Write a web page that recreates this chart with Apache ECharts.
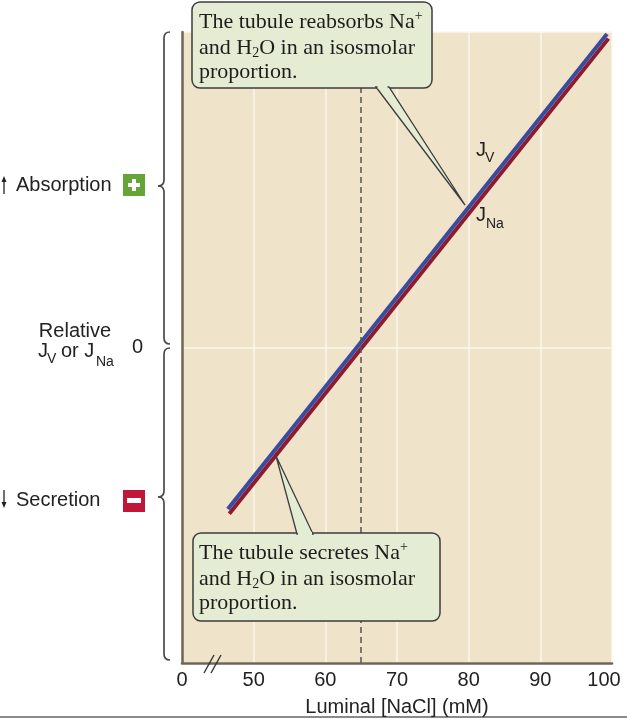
<!DOCTYPE html>
<html>
<head>
<meta charset="utf-8">
<script src="https://cdn.jsdelivr.net/npm/echarts@6/dist/echarts.min.js"></script>
<style>
html,body{margin:0;padding:0;background:#fff;}
#chart{width:627px;height:719px;}
</style>
</head>
<body>
<div id="chart"></div>
<script>
// ---- data ----
const xTickValues = [40, 50, 60, 70, 80, 90, 100];
const xTickLabels = ['0', '50', '60', '70', '80', '90', '100'];
const jvLine = [[46.4, -0.512], [99.3, 0.994]];
const jnaLine = [[46.6, -0.527], [99.5, 0.979]];
const isosmolarNaCl = 65;
const xAxisTitle = 'Luminal [NaCl] (mM)';
const topNote = ['The tubule reabsorbs {m|Na}{sup|+}', 'and {m|H}{sub|2}{m|O in an isosmolar}', 'proportion.'];
const bottomNote = ['The tubule secretes {m|Na}{sup|+}', 'and {m|H}{sub|2}{m|O in an isosmolar}', 'proportion.'];

const chart = echarts.init(document.getElementById('chart'));
const SANS = 'Liberation Sans, Arial, sans-serif';
const SERIF = 'Liberation Serif, Times New Roman, serif';
const AX = '#6e6658';
const FS = 20;
const FSS = 14;

function brace(x, y1, y2, ym, c) {
  const st = { fill: null, stroke: '#4a4a4a', lineWidth: 1.7 };
  const q = (ax, ay, cx, cy, bx, by) => ({ type: 'bezierCurve', shape: { x1: ax, y1: ay, cpx1: cx, cpy1: cy, x2: bx, y2: by }, style: st });
  const l = (ax, ay, bx, by) => ({ type: 'line', shape: { x1: ax, y1: ay, x2: bx, y2: by }, style: st });
  return [
    q(x + c, y1, x, y1, x, y1 + c),
    l(x, y1 + c, x, ym - c),
    q(x, ym - c, x, ym, x - c, ym),
    q(x - c, ym, x, ym, x, ym + c),
    l(x, ym + c, x, y2 - c),
    q(x, y2 - c, x, y2, x + c, y2)
  ];
}

const richNote = {
  m: { fontFamily: SERIF, fontSize: 22, lineHeight: 24.5, fill: '#1d1d1d' },
  sup: { fontFamily: SERIF, fontSize: 14, lineHeight: 26, fill: '#1d1d1d', verticalAlign: 'top' },
  sub: { fontFamily: SERIF, fontSize: 14, lineHeight: 15, fill: '#1d1d1d', verticalAlign: 'bottom' }
};
function noteText(lines) {
  return lines.map(l => l.replace(/^([^{]+)/, '{m|$1}')).join('\n');
}
function txt(x, y, s, size, extra) {
  return { type: 'text', x: x, y: y, style: Object.assign({ text: s, font: size + 'px ' + SANS, fill: '#222', verticalAlign: 'middle' }, extra || {}) };
}

const calloutFill = '#e4ecd3';
const calloutStroke = '#3d3d3d';

const graphics = [].concat(
  brace(164, 32, 344, 186, 6),
  brace(164, 348, 660, 497, 6),
  [
  // absorption label
  { type: 'line', shape: { x1: 4, y1: 194, x2: 4, y2: 180 }, style: { stroke: '#222', lineWidth: 1.3 } },
  { type: 'polygon', shape: { points: [[1.5, 182], [4, 176], [6.5, 182]] }, style: { fill: '#222' } },
  txt(16, 185, 'Absorption', FS),
  { type: 'rect', shape: { x: 123, y: 174, width: 22, height: 22 }, style: { fill: '#66a437' } },
  { type: 'rect', shape: { x: 128, y: 183, width: 12, height: 4 }, style: { fill: '#fff' } },
  { type: 'rect', shape: { x: 132, y: 179, width: 4, height: 12 }, style: { fill: '#fff' } },
  // secretion label
  { type: 'line', shape: { x1: 4, y1: 490, x2: 4, y2: 504 }, style: { stroke: '#222', lineWidth: 1.3 } },
  { type: 'polygon', shape: { points: [[1.5, 502], [4, 508], [6.5, 502]] }, style: { fill: '#222' } },
  txt(16, 500, 'Secretion', FS),
  { type: 'rect', shape: { x: 123, y: 490, width: 22, height: 22 }, style: { fill: '#c0163a' } },
  { type: 'rect', shape: { x: 127, y: 498, width: 14, height: 5 }, style: { fill: '#fff' } },
  // relative Jv or JNa
  txt(75, 331, 'Relative', FS, { align: 'center' }),
  txt(38, 351, 'J', FS),
  txt(47, 359, 'V', FSS),
  txt(61, 351, 'or J', FS),
  txt(96, 362, 'Na', FSS),
  // J labels near the lines
  txt(476, 150, 'J', FS),
  txt(485, 158, 'V', FSS),
  txt(476, 215, 'J', FS),
  txt(486, 224, 'Na', FSS),
  // axis break marks
  { type: 'line', shape: { x1: 204, y1: 673, x2: 214, y2: 655 }, style: { stroke: '#333', lineWidth: 1.4 }, z: 100 },
  { type: 'line', shape: { x1: 211, y1: 673, x2: 221, y2: 655 }, style: { stroke: '#333', lineWidth: 1.4 }, z: 100 },
  // bottom frame line
  { type: 'line', shape: { x1: 0, y1: 717, x2: 627, y2: 717 }, style: { stroke: '#8a8a8a', lineWidth: 2 } },
  // top callout
  { type: 'rect', shape: { x: 192, y: 2, width: 240, height: 86, r: 8 }, style: { fill: calloutFill, stroke: calloutStroke, lineWidth: 1.5 }, z: 100 },
  { type: 'polygon', shape: { points: [[376, 87], [465, 205], [389, 87]] }, style: { fill: calloutFill, stroke: calloutStroke, lineWidth: 1.3 }, z: 101 },
  { type: 'rect', shape: { x: 377.5, y: 84, width: 10, height: 4.5 }, style: { fill: calloutFill }, z: 102 },
  { type: 'text', x: 199, y: 9.5, z: 103, style: { text: noteText(topNote), rich: richNote, fill: '#1d1d1d' } },
  // bottom callout
  { type: 'rect', shape: { x: 193, y: 533, width: 247, height: 88, r: 8 }, style: { fill: calloutFill, stroke: calloutStroke, lineWidth: 1.5 }, z: 100 },
  { type: 'polygon', shape: { points: [[297, 534], [276, 456], [313, 534]] }, style: { fill: calloutFill, stroke: calloutStroke, lineWidth: 1.3 }, z: 101 },
  { type: 'rect', shape: { x: 298, y: 532, width: 14, height: 4.5 }, style: { fill: calloutFill }, z: 102 },
  { type: 'text', x: 199, y: 540.5, z: 103, style: { text: noteText(bottomNote), rich: richNote, fill: '#1d1d1d' } }
  ]
);

const option = {
  animation: false,
  backgroundColor: '#fff',
  grid: { left: 182, right: 15, top: 32, bottom: 56, show: true, backgroundColor: '#efe3c9', borderWidth: 0, outerBoundsMode: 'none', containLabel: false },
  xAxis: {
    type: 'value', min: 40, max: 100, interval: 10,
    axisLine: { show: true, onZero: false, lineStyle: { color: AX, width: 2.5 } },
    axisTick: { show: false },
    splitLine: { show: true, lineStyle: { color: '#fbf7ee', width: 1.5 } },
    axisLabel: {
      color: '#222', fontSize: FS, fontFamily: SANS, margin: 7,
      formatter: v => {
        const i = xTickValues.indexOf(v);
        if (i < 0) return '';
        return i === xTickValues.length - 1 ? '{last|' + xTickLabels[i] + '}' : xTickLabels[i];
      },
      rich: { last: { fontSize: FS, fontFamily: SANS, color: '#222', padding: [0, 16, 0, 0] } }
    },
    name: xAxisTitle, nameLocation: 'middle', nameGap: 34,
    nameTextStyle: { color: '#222', fontSize: FS, fontFamily: SANS }
  },
  yAxis: {
    type: 'value', min: -1, max: 1, interval: 1,
    axisLine: { show: true, onZero: false, lineStyle: { color: AX, width: 2.5 } },
    axisTick: { show: false },
    splitLine: { show: true, lineStyle: { color: '#fbf7ee', width: 1.5 } },
    axisLabel: { color: '#222', fontSize: FS, fontFamily: SANS, margin: 39, formatter: v => (v === 0 ? '0' : '') }
  },
  series: [
    {
      name: 'JNa', type: 'line', data: jnaLine, showSymbol: false, silent: true,
      lineStyle: { color: '#8d1b2f', width: 4, cap: 'butt' }, z: 3,
      markLine: {
        silent: true, symbol: 'none', label: { show: false },
        lineStyle: { color: '#555', type: [6, 4], width: 1.5 },
        data: [{ xAxis: isosmolarNaCl }]
      }
    },
    {
      name: 'JV', type: 'line', data: jvLine, showSymbol: false, silent: true,
      lineStyle: { color: '#3b4c9f', width: 4, cap: 'butt' }, z: 4
    }
  ],
  graphic: graphics
};
chart.setOption(option);
</script>
</body>
</html>
